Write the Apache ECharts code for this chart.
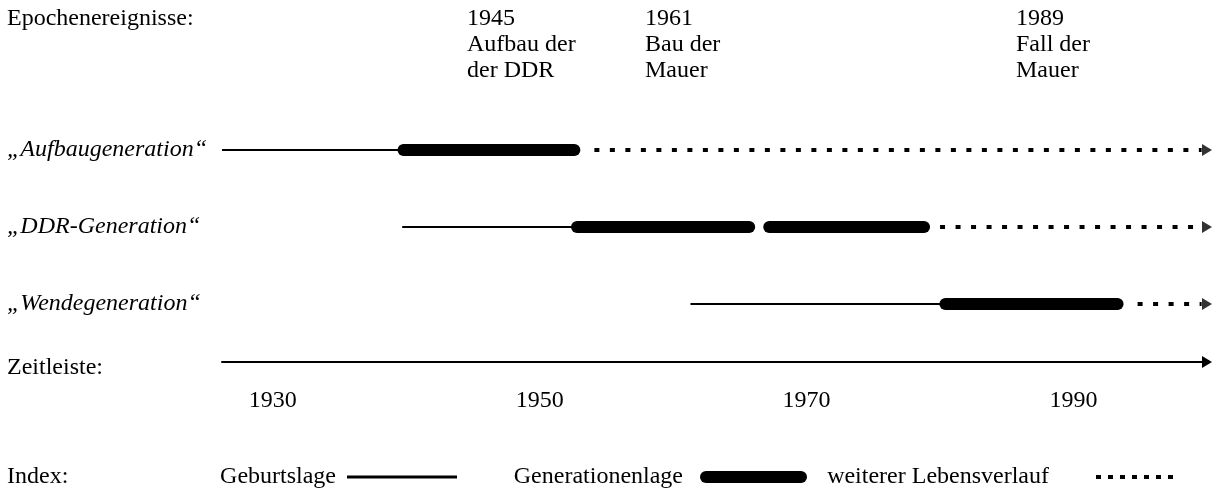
<!DOCTYPE html>
<html><head><meta charset="utf-8">
<script src="https://cdn.jsdelivr.net/npm/echarts@6/dist/echarts.min.js"></script>
<style>html,body{margin:0;padding:0;background:#fff}#c{width:1217px;height:494px}</style>
</head><body><div id="c"></div>
<script>
// ---- data ----
const rows = ['„Aufbaugeneration“', '„DDR-Generation“', '„Wendegeneration“'];
const birthSpans = [[1926.2, 1939.8], [1939.7, 1952.8], [1961.3, 1980.4]];
const generationSpans = [[[1939.8, 1952.6]], [[1952.8, 1965.7], [1967.2, 1978.8]], [[1980.4, 1993.3]]];
const laterSpans = [[1954.1, 1999.6], [1980.0, 1999.6], [1994.8, 1999.6]];
const arrowYears = [2000, 2000, 2000];
const yearTicks = [1930, 1950, 1970, 1990];
const eventYears = ['1945', '1961', '1989'];
const eventTexts = [['Aufbau der', 'der DDR'], ['Bau der', 'Mauer'], ['Fall der', 'Mauer']];
const legendNames = ['Geburtslage', 'Generationenlage', 'weiterer Lebensverlauf'];

// ---- layout / style ----
const FONT = 'Liberation Serif';
const FS = 24;
const eventLeft = [467, 645, 1016];
const txt = (t, left, top) => ({type: 'text', left, top, silent: true,
  style: {text: t, fontFamily: FONT, fontSize: FS, lineHeight: 26, fill: '#000'}});

const series = [];
birthSpans.forEach((s, i) => series.push({
  type: 'line', name: legendNames[0], data: [[s[0], i], [s[1], i]],
  symbol: 'none', showSymbol: false, silent: true, z: 2,
  itemStyle: {color: '#000'}, lineStyle: {color: '#000', width: 2, cap: 'butt'}
}));
generationSpans.forEach((segs, i) => segs.forEach(s => series.push({
  type: 'line', name: legendNames[1], data: [[s[0], i], [s[1], i]],
  symbol: 'none', showSymbol: false, silent: true, z: 3,
  itemStyle: {color: '#000'}, lineStyle: {color: '#000', width: 12, cap: 'round'}
})));
laterSpans.forEach((s, i) => series.push({
  type: 'line', name: legendNames[2], data: [[s[0], i], [s[1], i]],
  symbol: 'none', showSymbol: false, silent: true, z: 2,
  itemStyle: {color: '#000'}, lineStyle: {color: '#000', width: 4, type: [5, 10.5], cap: 'butt'}
}));
series.push({
  type: 'scatter', name: 'Pfeil', data: arrowYears.map((y, i) => [y, i]),
  symbol: 'path://M0,0L10,6L0,12Z', symbolSize: [10, 12], silent: true, z: 4,
  itemStyle: {color: '#000'}
});

const legendText = {fontFamily: FONT, fontSize: FS, color: '#000', lineHeight: 24};
const mkLegend = (name, icon, w, h, right, gapText) => ({
  data: [{name, icon}], right, top: 465, align: 'right', orient: 'horizontal',
  itemWidth: w, itemHeight: h, padding: 0, selectedMode: false,
  itemStyle: {borderWidth: 0}, textStyle: legendText, formatter: '{name}' + gapText
});
const dotPath = 'path://' + [0, 12, 24, 36, 48, 60, 72].map(x => `M${x},0h5v4h-5z`).join(' ');
const pillPath = 'path://M6,0L101,0A6,6 0 0 1 101,12L6,12A6,6 0 0 1 6,0Z';

const chart = echarts.init(document.getElementById('c'), null, {renderer: 'canvas'});
chart.setOption({
  animation: false,
  backgroundColor: '#fff',
  grid: {left: 222, right: 10, top: 111.5, bottom: 151.5, containLabel: false, outerBoundsMode: 'none'},
  xAxis: {
    type: 'value', min: 1926.2, max: 2000, offset: 19.5,
    axisLine: {show: true, lineStyle: {color: '#000', width: 2}, symbol: ['none', 'triangle'], symbolSize: [12, 10]},
    axisTick: {show: false}, splitLine: {show: false},
    axisLabel: {customValues: yearTicks, margin: 27, fontFamily: FONT, fontSize: FS, color: '#000',
      formatter: v => String(v)}
  },
  yAxis: {
    type: 'category', data: rows, inverse: true,
    axisLine: {show: false}, axisTick: {show: false}, splitLine: {show: false},
    axisLabel: {align: 'left', margin: 215, fontFamily: FONT, fontSize: FS, fontStyle: 'italic', color: '#000'}
  },
  legend: [
    mkLegend(legendNames[0], 'rect', 110, 3, 760, ' '),
    mkLegend(legendNames[1], pillPath, 107, 12, 410, '  '),
    mkLegend(legendNames[2], dotPath, 77, 4, 44, '       ')
  ],
  graphic: [
    txt('Epochenereignisse:', 7, 6),
    ...eventYears.map((y, i) => txt([y].concat(eventTexts[i]).join('\n'), eventLeft[i], 6)),
    txt('Zeitleiste:', 7, 355),
    txt('Index:', 7, 464)
  ],
  series
});
</script>
</body></html>
